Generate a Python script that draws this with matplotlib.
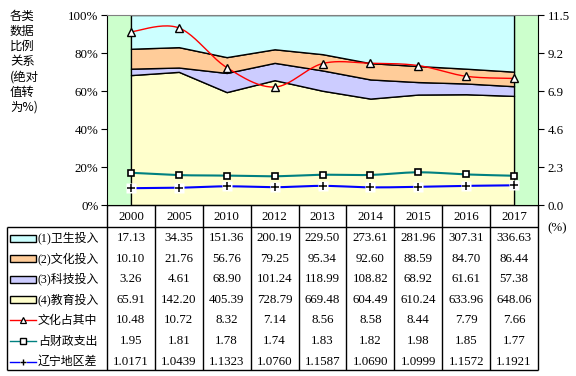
import numpy as np
import matplotlib
matplotlib.use("Agg")
import matplotlib.pyplot as plt
from matplotlib.lines import Line2D
from matplotlib.patches import Rectangle

years = ["2000", "2005", "2010", "2012", "2013", "2014", "2015", "2016", "2017"]
health = [17.13, 34.35, 151.36, 200.19, 229.50, 273.61, 281.96, 307.31, 336.63]
culture = [10.10, 21.76, 56.76, 79.25, 95.34, 92.60, 88.59, 84.70, 86.44]
science = [3.26, 4.61, 68.90, 101.24, 118.99, 108.82, 68.92, 61.61, 57.38]
education = [65.91, 142.20, 405.39, 728.79, 669.48, 604.49, 610.24, 633.96, 648.06]
culture_share = [10.48, 10.72, 8.32, 7.14, 8.56, 8.58, 8.44, 7.79, 7.66]
fiscal_share = [1.95, 1.81, 1.78, 1.74, 1.83, 1.82, 1.98, 1.85, 1.77]
region_gap = [1.0171, 1.0439, 1.1323, 1.0760, 1.1587, 1.0690, 1.0999, 1.1572, 1.1921]

area_labels = ["(1)卫生投入", "(2)文化投入", "(3)科技投入", "(4)教育投入"]
line_labels = ["文化占其中", "占财政支出", "辽宁地区差"]
left_ticks = ["0%", "20%", "40%", "60%", "80%", "100%"]
right_ticks = ["0.0", "2.3", "4.6", "6.9", "9.2", "11.5"]
ylabel_lines = ["各类", "数据", "比例", "关系", "(绝对", "值转", "为%)"]

c_health, c_cult, c_sci, c_edu = "#CCFFFF", "#FFCC99", "#CCCCFF", "#FFFFCC"
c_bg = "#CCFFCC"
c_red, c_teal, c_blue = "#FF0000", "#008080", "#0000FF"

SERIF = ["Liberation Serif", "Noto Sans CJK SC"]
CJK = ["Noto Sans CJK SC", "Liberation Serif"]

W, H = 576, 376
fig = plt.figure(figsize=(W / 100, H / 100), dpi=100)

# overlay in pixel coordinates for the table
ov = fig.add_axes([0, 0, 1, 1])
ov.set_xlim(0, W)
ov.set_ylim(H, 0)
ov.axis("off")

X0, X1 = 107, 538
Y0, Y1 = 15, 205
ax = fig.add_axes([X0 / W, (H - Y1) / H, (X1 - X0) / W, (Y1 - Y0) / H])
ax.set_facecolor(c_bg)
n = len(years)
x = np.arange(n)
tot = np.array(health) + np.array(culture) + np.array(science) + np.array(education)
pe = 100 * np.array(education) / tot
ps = 100 * np.array(science) / tot
pc = 100 * np.array(culture) / tot
ph = 100 * np.array(health) / tot
ax.stackplot(x, pe, ps, pc, ph, colors=[c_edu, c_sci, c_cult, c_health],
             edgecolor="black", linewidth=1.0)
ax.set_xlim(-0.5, n - 0.5)
ax.set_ylim(0, 100)
ax.set_yticks([0, 20, 40, 60, 80, 100])
ax.set_yticklabels(left_ticks, fontfamily=SERIF, fontsize=9.3)
ax.set_xticks([])
ax.tick_params(axis="y", direction="out", length=4, width=0.8, pad=2)
for s in ["left", "bottom"]:
    ax.spines[s].set_color("black")
ax.spines["top"].set_color("#808080")
ax.spines["right"].set_visible(False)

ax2 = ax.twinx()
ax2.set_ylim(0, 11.5)
ax2.set_yticks([0, 2.3, 4.6, 6.9, 9.2, 11.5])
ax2.set_yticklabels(right_ticks, fontfamily=SERIF, fontsize=9.3)
ax2.tick_params(axis="y", direction="out", length=4, width=0.8, pad=3)
ax2.spines["right"].set_color("black")
ax2.spines["top"].set_visible(False)
ax2.spines["left"].set_visible(False)
ax2.spines["bottom"].set_visible(False)


def smooth(vals, m=24):
    pts = np.column_stack([np.arange(len(vals)), np.array(vals, float)])
    out = []
    for i in range(len(pts) - 1):
        p0 = pts[max(i - 1, 0)]
        p1 = pts[i]
        p2 = pts[i + 1]
        p3 = pts[min(i + 2, len(pts) - 1)]
        c1 = p1 + (p2 - p0) / 6
        c2 = p2 - (p3 - p1) / 6
        t = np.linspace(0, 1, m)[:, None]
        seg = (1 - t) ** 3 * p1 + 3 * (1 - t) ** 2 * t * c1 + 3 * (1 - t) * t ** 2 * c2 + t ** 3 * p2
        out.append(seg if i == 0 else seg[1:])
    return np.vstack(out)


for vals, col, lw in [(culture_share, c_red, 1.0), (fiscal_share, c_teal, 1.5), (region_gap, c_blue, 1.5)]:
    s = smooth(vals)
    ax2.plot(s[:, 0], s[:, 1], color=col, lw=lw, zorder=3)
ax2.plot(x, culture_share, ls="none", marker="^", ms=6, mfc="white", mec="black", mew=1.0, zorder=4)
ax2.plot(x, fiscal_share, ls="none", marker="s", ms=5, mfc="white", mec="black", mew=1.2, zorder=4)
ax2.plot(x, region_gap, ls="none", marker="s", ms=6.5, mfc="white", mec="none", zorder=4)
ax2.plot(x, region_gap, ls="none", marker="+", ms=6, mec="black", mew=1.1, zorder=5)

# top-left label
for i, t in enumerate(ylabel_lines):
    ov.text(10, 16 + i * 15.2, t, fontfamily=CJK, fontsize=8.9, ha="left", va="center")
ov.text(547, 228, "(%)", fontfamily=SERIF, fontsize=9.3, ha="left", va="center")

# table
cw = (X1 - X0) / n
TY0, TY1, TY2 = 205, 227, 370
LX = 7
lk = dict(color="black", lw=1.0, solid_capstyle="butt")
ov.add_line(Line2D([X0, X1], [TY0, TY0], **lk))
ov.add_line(Line2D([LX, X1], [TY1, TY1], **lk))
ov.add_line(Line2D([LX, X1], [TY2, TY2], **lk))
ov.add_line(Line2D([LX, LX], [TY1, TY2], **lk))
for k in range(n + 1):
    xx = X0 + k * cw
    ov.add_line(Line2D([xx, xx], [TY0, TY2], **lk))
for k, yv in enumerate(years):
    ov.text(X0 + (k + 0.5) * cw, 216.5, yv, fontfamily=SERIF, fontsize=9.3, ha="center", va="center")

rows = [
    (area_labels[0], health, "area", c_health, "{:.2f}"),
    (area_labels[1], culture, "area", c_cult, "{:.2f}"),
    (area_labels[2], science, "area", c_sci, "{:.2f}"),
    (area_labels[3], education, "area", c_edu, "{:.2f}"),
    (line_labels[0], culture_share, "tri", c_red, "{:.2f}"),
    (line_labels[1], fiscal_share, "sq", c_teal, "{:.2f}"),
    (line_labels[2], region_gap, "plus", c_blue, "{:.4f}"),
]
for r, (lab, vals, kind, col, fmt) in enumerate(rows):
    yc = 238 + r * 20.6
    if kind == "area":
        ov.add_patch(Rectangle((10, yc - 3.5), 26, 7, facecolor=col, edgecolor="black", lw=1.0))
    else:
        if kind == "plus":
            ov.add_line(Line2D([10, 19], [yc, yc], color=col, lw=1.0))
            ov.add_line(Line2D([27, 36], [yc, yc], color=col, lw=1.0))
        else:
            ov.add_line(Line2D([10, 36], [yc, yc], color=col, lw=1.0))
        if kind == "tri":
            ov.plot([23], [yc], marker="^", ms=5, mfc="white", mec="black", mew=0.9)
        elif kind == "sq":
            ov.plot([23], [yc], marker="s", ms=4.5, mfc="white", mec="black", mew=1.0)
        else:
            ov.plot([23], [yc], marker="+", ms=5, mec="black", mew=1.0)
    ov.text(38, yc, lab, fontfamily=SERIF if kind == "area" else CJK, fontsize=8.6,
            ha="left", va="center")
    for k, v in enumerate(vals):
        ov.text(X0 + (k + 0.5) * cw, yc, fmt.format(v), fontfamily=SERIF, fontsize=9.3,
                ha="center", va="center")

fig.savefig("out.png", dpi=100)
